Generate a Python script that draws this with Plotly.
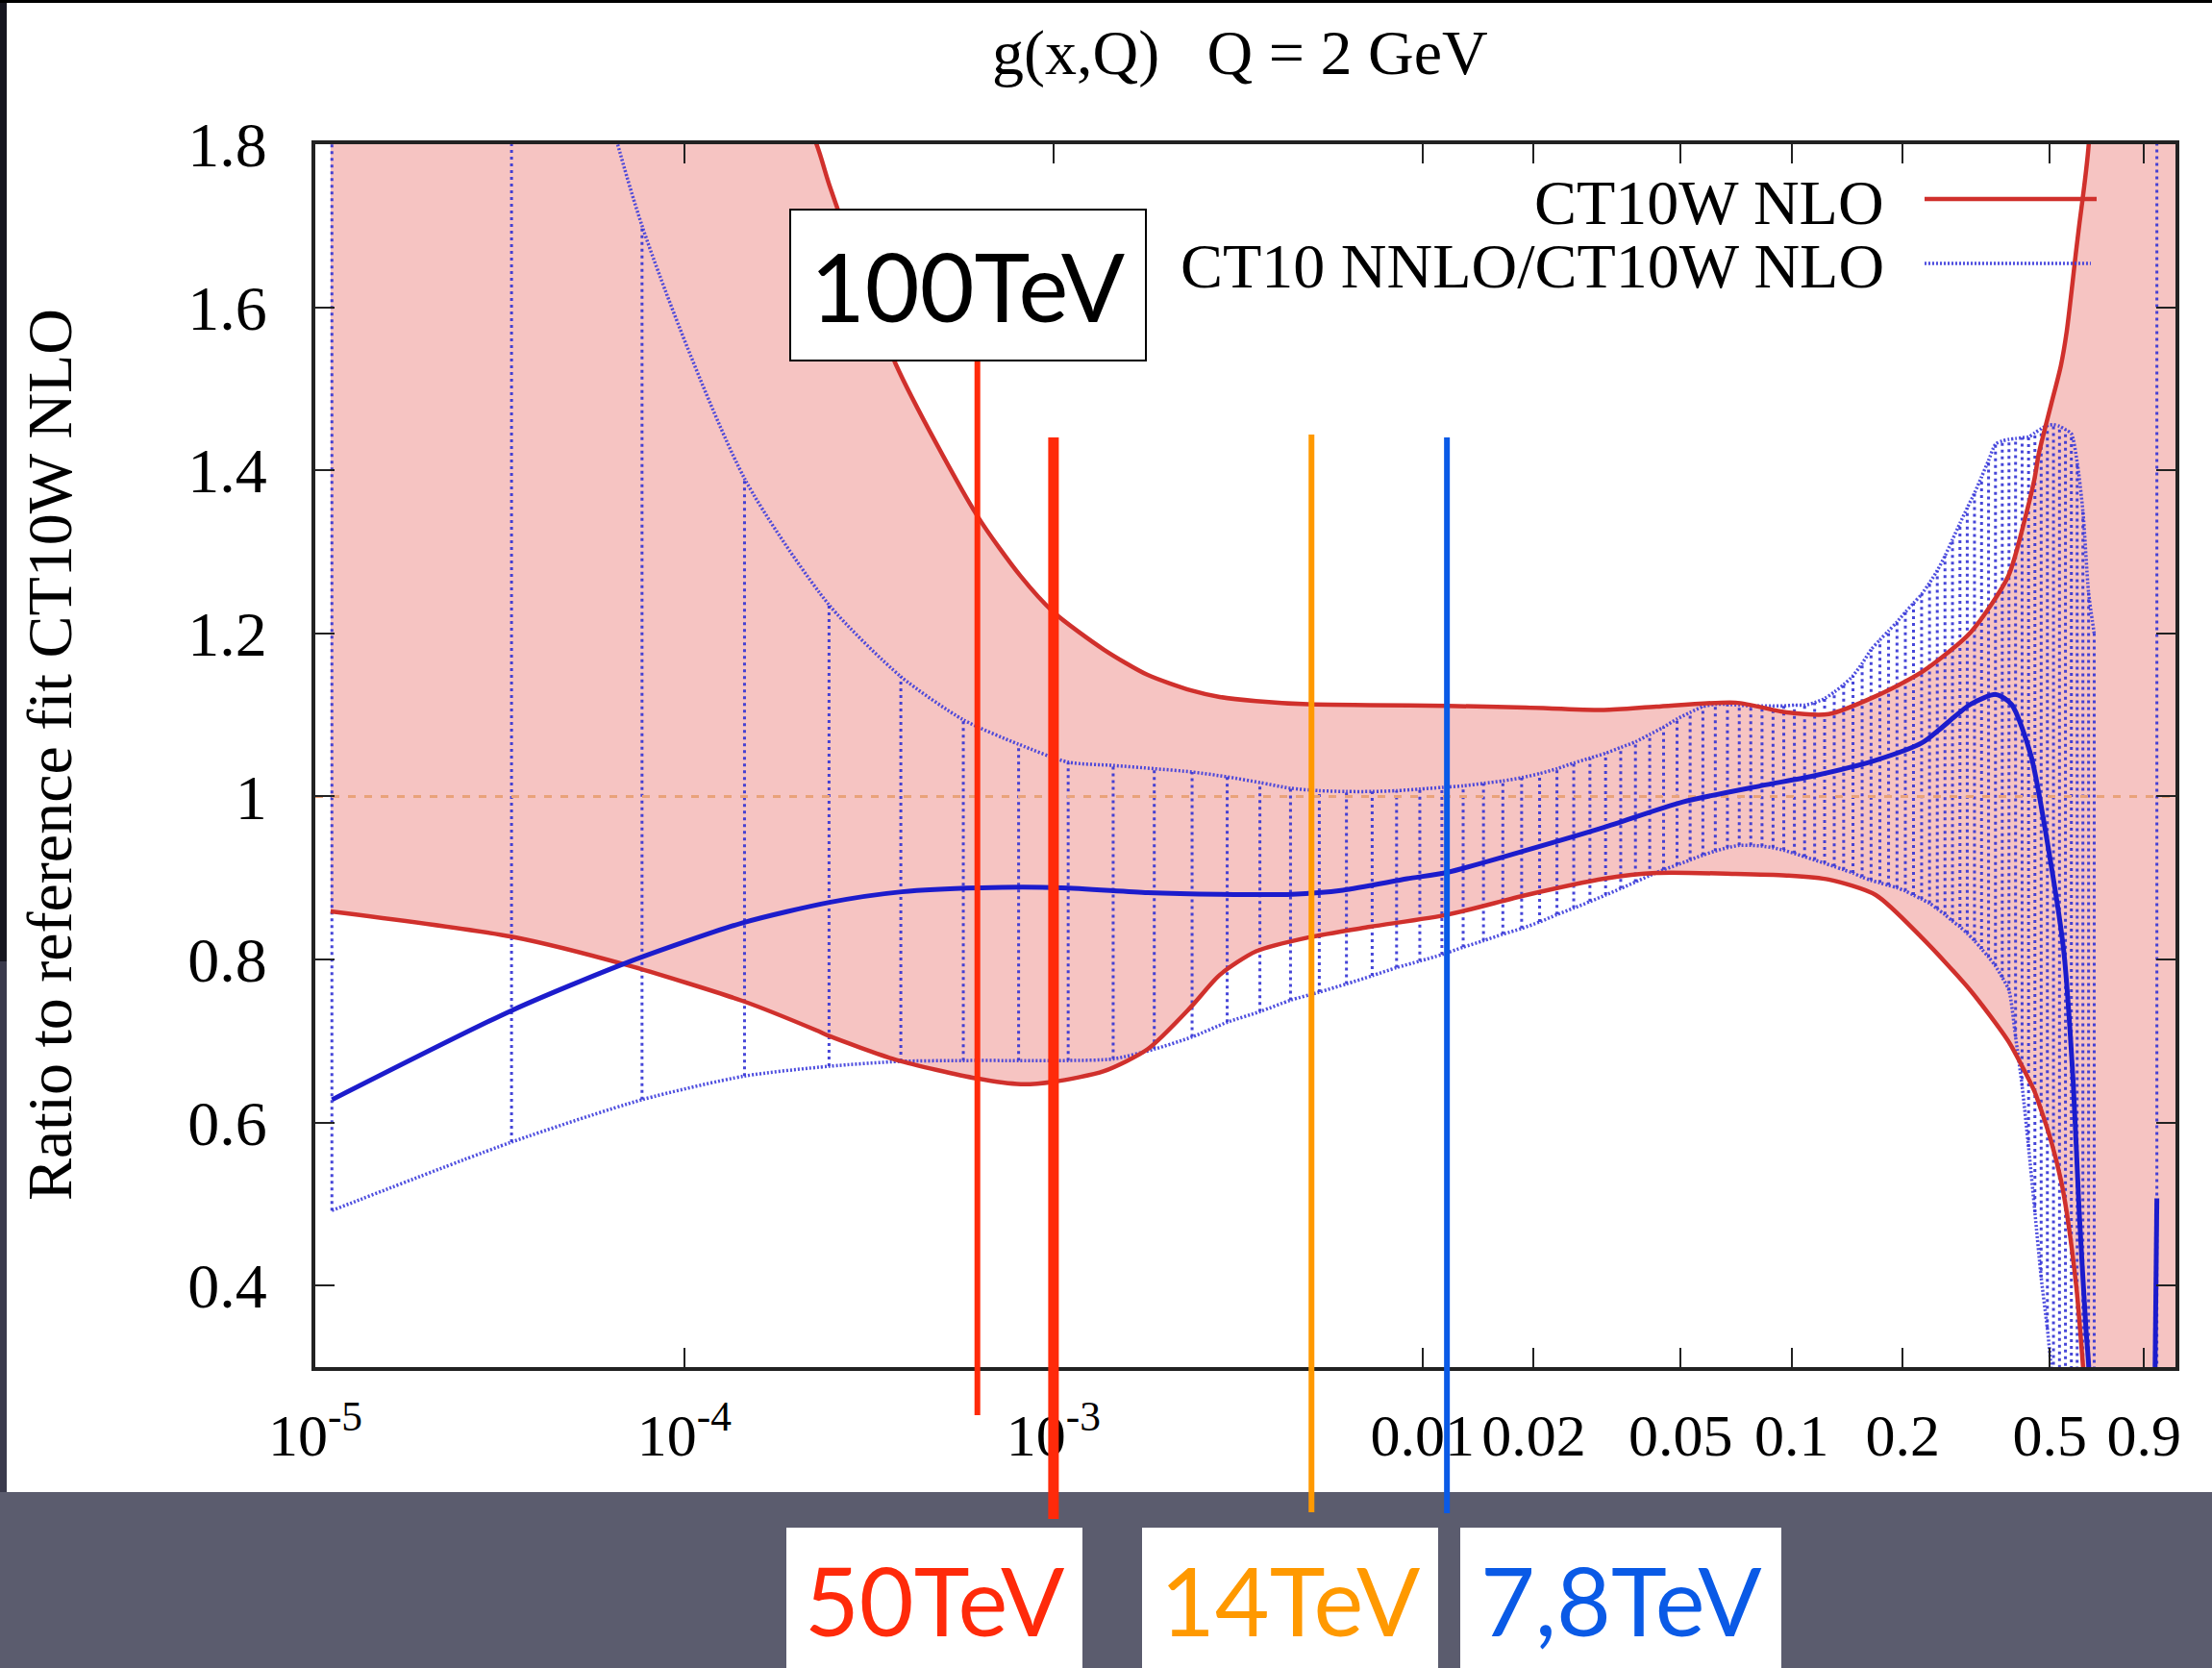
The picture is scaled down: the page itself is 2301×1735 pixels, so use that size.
import math
import plotly.graph_objects as go

# ---------------- data ----------------
title_text = "g(x,Q)\u00a0\u00a0\u00a0Q = 2 GeV"
y_title = "Ratio to reference fit CT10W NLO"
legend_names = ["CT10W NLO", "CT10 NNLO/CT10W NLO"]

x_min, x_max = 1e-5, 1.096
y_min, y_max = 0.3, 1.8
ref_level = 1.0

x_tickvals = [1e-5, 1e-4, 1e-3, 0.01, 0.02, 0.05, 0.1, 0.2, 0.5, 0.9]
x_ticktext = ["10<sup>-5</sup>", "10<sup>-4</sup>", "10<sup>-3</sup>", "0.01", "0.02",
              "0.05", "0.1", "0.2", "0.5", "0.9"]
y_tickvals = [0.4, 0.6, 0.8, 1.0, 1.2, 1.4, 1.6, 1.8]
y_ticktext = ["0.4", "0.6", "0.8", "1", "1.2", "1.4", "1.6", "1.8"]

# CT10W NLO error band (red)
red_x = [1.1e-5, 3.4e-5, 7.0e-5, 1.44e-4, 2.28e-4, 2.47e-4, 3.74e-4, 6.2e-4, 8.15e-4, 1.0e-3,
         1.37e-3, 1.8e-3, 2.36e-3, 2.82e-3, 3.54e-3, 4.9e-3, 7.2e-3, 0.0117, 0.0191, 0.031,
         0.043, 0.0705, 0.097, 0.126, 0.169, 0.226, 0.305, 0.386, 0.431, 0.455,
         0.467, 0.504, 0.536, 0.556, 0.590, 0.601, 0.638, 0.70, 1.1]
red_up = [3.2, 2.7, 2.25, 2.0, 1.80, 1.75, 1.53, 1.345, 1.27, 1.226,
          1.18, 1.149, 1.130, 1.122, 1.117, 1.113, 1.112, 1.111, 1.109, 1.106,
          1.110, 1.115, 1.103, 1.101, 1.123, 1.153, 1.201, 1.27, 1.345, 1.39,
          1.42, 1.48, 1.528, 1.57, 1.67, 1.70, 1.80, 2.3, 5.0]
red_lo = [0.859, 0.828, 0.793, 0.749, 0.713, 0.706, 0.677, 0.654, 0.647, 0.650,
          0.663, 0.690, 0.742, 0.781, 0.810, 0.827, 0.840, 0.855, 0.879, 0.899,
          0.906, 0.905, 0.903, 0.898, 0.879, 0.826, 0.762, 0.700, 0.660, 0.638,
          0.624, 0.578, 0.530, 0.490, 0.400, 0.360, 0.200, -0.3, -3.0]

# CT10 NNLO / CT10W NLO error band (blue, drawn as dotted impulses)
grid_x = [1.109e-5, 3.401e-5, 7.677e-5, 1.455e-4, 2.465e-4, 3.858e-4, 5.697e-4, 8.044e-4, 1.096e-3, 1.451e-3,
          1.875e-3, 2.374e-3, 2.955e-3, 3.624e-3, 4.387e-3, 5.250e-3, 6.219e-3, 7.301e-3, 8.502e-3, 9.828e-3,
          0.01128, 0.01288, 0.01462, 0.01650, 0.01855, 0.02075, 0.02312, 0.02567, 0.02840, 0.03132,
          0.03442, 0.03773, 0.04124, 0.04497, 0.04891, 0.05307, 0.05747, 0.06210, 0.06697, 0.07210,
          0.07747, 0.08311, 0.08902, 0.09519, 0.1017, 0.1084, 0.1154, 0.1228, 0.1304, 0.1383,
          0.1466, 0.1552, 0.1641, 0.1734, 0.1830, 0.1929, 0.2032, 0.2138, 0.2249, 0.2363,
          0.2480, 0.2602, 0.2727, 0.2857, 0.2990, 0.3128, 0.3269, 0.3415, 0.3566, 0.3720,
          0.3879, 0.4042, 0.4210, 0.4383, 0.4560, 0.4742, 0.4929, 0.5120, 0.5316, 0.5518,
          0.5724, 0.5935, 0.6152, 0.6374, 0.6601, 0.9759]
blue_hi = [3.2, 2.3, 1.70, 1.39, 1.235, 1.147, 1.094, 1.064, 1.042, 1.038,
           1.034, 1.030, 1.024, 1.017, 1.010, 1.007, 1.006, 1.006, 1.007, 1.009,
           1.011, 1.013, 1.016, 1.019, 1.023, 1.028, 1.034, 1.041, 1.047, 1.053,
           1.060, 1.067, 1.076, 1.085, 1.095, 1.103, 1.110, 1.113, 1.113, 1.112,
           1.111, 1.111, 1.111, 1.111, 1.112, 1.112, 1.115, 1.120, 1.128, 1.137,
           1.148, 1.163, 1.180, 1.192, 1.203, 1.214, 1.226, 1.237, 1.248, 1.262,
           1.277, 1.295, 1.315, 1.335, 1.354, 1.372, 1.392, 1.412, 1.432, 1.436,
           1.438, 1.439, 1.440, 1.441, 1.446, 1.451, 1.455, 1.456, 1.454, 1.450,
           1.445, 1.41, 1.35, 1.25, 1.20, 2.5]
blue_lo = [0.492, 0.576, 0.628, 0.657, 0.669, 0.675, 0.676, 0.676, 0.676, 0.678,
           0.690, 0.705, 0.723, 0.736, 0.750, 0.760, 0.770, 0.780, 0.790, 0.798,
           0.806, 0.815, 0.823, 0.831, 0.838, 0.846, 0.855, 0.863, 0.871, 0.879,
           0.887, 0.895, 0.903, 0.910, 0.916, 0.922, 0.928, 0.933, 0.937, 0.940,
           0.940, 0.939, 0.937, 0.934, 0.930, 0.926, 0.922, 0.918, 0.914, 0.910,
           0.906, 0.901, 0.897, 0.894, 0.891, 0.888, 0.884, 0.879, 0.874, 0.869,
           0.862, 0.855, 0.847, 0.840, 0.832, 0.823, 0.813, 0.803, 0.792, 0.778,
           0.762, 0.705, 0.645, 0.570, 0.490, 0.410, 0.347, 0.27, 0.20, 0.12,
           0.05, 0.0, 0.0, 0.0, 0.0, -1.0]

# CT10 NNLO / CT10W NLO central ratio (solid blue)
cen_x = [1.11e-5, 3.39e-5, 6.98e-5, 1.44e-4, 2.47e-4, 3.88e-4, 6.38e-4, 1.05e-3, 1.8e-3, 2.82e-3,
         4.43e-3, 6.08e-3, 9.08e-3, 0.0117, 0.0191, 0.031, 0.0505, 0.0824, 0.114, 0.168,
         0.226, 0.305, 0.358, 0.394, 0.445, 0.502, 0.546, 0.579, 0.601, 0.627,
         0.638, 0.66, 0.90, 0.9759]
cen_y = [0.628, 0.737, 0.796, 0.845, 0.870, 0.883, 0.888, 0.888, 0.882, 0.880,
         0.880, 0.885, 0.899, 0.907, 0.934, 0.962, 0.993, 1.013, 1.025, 1.044,
         1.066, 1.113, 1.125, 1.113, 1.05, 0.922, 0.81, 0.65, 0.491, 0.347,
         0.30, 0.0, -1.0, 0.507]

# collider energies marked on the slide
energy_labels = ["100TeV", "50TeV", "14TeV", "7,8TeV"]
energy_x = [6.22e-4, 1.0e-3, 5.0e-3, 0.01164]
energy_colors = ["#ff2a0a", "#ff2a0a", "#ff9900", "#0a5ae6"]

# ---------------- layout helpers (pixel -> paper) ----------------
W, H = 2301, 1735
L, R, T, B = 328, 2263, 150, 1422


def px(x):
    return (x - L) / (R - L)


def py(y):
    return (B - y) / (B - T)


SERIF = "Liberation Serif"
SANS = "Lato"
SMOOTH = 0.7

fig = go.Figure()

# red band fill
fig.add_trace(go.Scatter(x=red_x, y=red_lo, mode="lines",
                         line=dict(width=0, color="#d0302c", shape="spline", smoothing=SMOOTH),
                         hoverinfo="skip", showlegend=False))
fig.add_trace(go.Scatter(x=red_x, y=red_up, mode="lines",
                         line=dict(width=0, color="#d0302c", shape="spline", smoothing=SMOOTH),
                         fill="tonexty", fillcolor="#f6c4c2", hoverinfo="skip", showlegend=False))

# blue impulses
ix, iy = [], []
for xv, lo, hi in zip(grid_x, blue_lo, blue_hi):
    ix += [xv, xv, None]
    iy += [lo, hi, None]
fig.add_trace(go.Scatter(x=ix, y=iy, mode="lines",
                         line=dict(color="rgba(50,50,212,0.9)", width=3, dash="3px,4px"),
                         hoverinfo="skip", showlegend=False))

# reference level
fig.add_trace(go.Scatter(x=[x_min, x_max], y=[ref_level, ref_level], mode="lines",
                         line=dict(color="#e9a27a", width=3, dash="8px,9px"),
                         hoverinfo="skip", showlegend=False))

# blue band edges
for ys in (blue_hi, blue_lo):
    fig.add_trace(go.Scatter(x=grid_x[:-1], y=ys[:-1], mode="lines",
                             line=dict(color="rgba(60,60,220,0.9)", width=3.5, dash="2px,2px",
                                       shape="spline", smoothing=SMOOTH),
                             hoverinfo="skip", showlegend=False))

# red band edges
for ys in (red_up, red_lo):
    fig.add_trace(go.Scatter(x=red_x, y=ys, mode="lines",
                             line=dict(color="#d0302c", width=4.5, shape="spline", smoothing=SMOOTH),
                             hoverinfo="skip", showlegend=False))

# central blue line (smooth part, then the steep jump near x -> 1)
fig.add_trace(go.Scatter(x=cen_x[:-1], y=cen_y[:-1], mode="lines",
                         line=dict(color="#1c1ccc", width=5, shape="spline", smoothing=SMOOTH),
                         hoverinfo="skip", showlegend=False))
fig.add_trace(go.Scatter(x=cen_x[-2:], y=cen_y[-2:], mode="lines",
                         line=dict(color="#1c1ccc", width=5),
                         hoverinfo="skip", showlegend=False))

shapes = []
annotations = []

# slide background pieces
shapes.append(dict(type="rect", xref="paper", yref="paper", x0=px(7), x1=px(W), y0=py(1552), y1=py(3),
                   fillcolor="white", line=dict(width=0), layer="below"))
shapes.append(dict(type="rect", xref="paper", yref="paper", x0=px(0), x1=px(7), y0=py(1000), y1=py(0),
                   fillcolor="#16161f", line=dict(width=0), layer="below"))
shapes.append(dict(type="rect", xref="paper", yref="paper", x0=px(0), x1=px(7), y0=py(1552), y1=py(1000),
                   fillcolor="#3a3a4c", line=dict(width=0), layer="below"))
shapes.append(dict(type="rect", xref="paper", yref="paper", x0=px(0), x1=px(W), y0=py(3), y1=py(0),
                   fillcolor="#000000", line=dict(width=0), layer="below"))

# legend (gnuplot style: text then sample)
shapes.append(dict(type="line", xref="paper", yref="paper", x0=px(2002), x1=px(2181), y0=py(207), y1=py(207),
                   line=dict(color="#d0302c", width=4.5)))
shapes.append(dict(type="line", xref="paper", yref="paper", x0=px(2002), x1=px(2175), y0=py(274), y1=py(274),
                   line=dict(color="rgba(60,60,220,0.9)", width=3.5, dash="2px,2px")))
annotations.append(dict(text=legend_names[0], xref="paper", yref="paper", x=px(1962), y=py(210),
                        xanchor="right", yanchor="middle", showarrow=False,
                        font=dict(family=SERIF, size=66, color="black")))
annotations.append(dict(text=legend_names[1], xref="paper", yref="paper", x=px(1962), y=py(276),
                        xanchor="right", yanchor="middle", showarrow=False,
                        font=dict(family=SERIF, size=66, color="black")))

# energy marker lines
line_spans = [(375, 1472, 6), (455, 1580, 11), (452, 1573, 6), (455, 1574, 6)]
for xv, col, (ytop, ybot, wd) in zip(energy_x, energy_colors, line_spans):
    shapes.append(dict(type="line", xref="x", yref="paper", x0=xv, x1=xv, y0=py(ybot), y1=py(ytop),
                       line=dict(color=col, width=wd), layer="above"))

# label boxes
box_specs = [(822, 1192, 218, 375, True), (818, 1126, 1589, 1740, False),
             (1188, 1496, 1589, 1740, False), (1519, 1853, 1589, 1740, False)]
text_colors = ["#000000", "#ff2a0a", "#ff9900", "#0a5ae6"]
for lab, tc, (x0, x1, y0, y1, border) in zip(energy_labels, text_colors, box_specs):
    shapes.append(dict(type="rect", xref="paper", yref="paper", x0=px(x0), x1=px(x1), y0=py(y1), y1=py(y0),
                       fillcolor="white", line=dict(color="black", width=2 if border else 0),
                       layer="above"))
    cy = (y0 + min(y1, H)) / 2 + (0 if border else 2)
    annotations.append(dict(text=lab, xref="paper", yref="paper", x=px((x0 + x1) / 2), y=py(cy),
                            xanchor="center", yanchor="middle", showarrow=False,
                            font=dict(family=SANS, size=98, color=tc)))

# title and y title
annotations.append(dict(text=title_text, xref="paper", yref="paper", x=px(1290), y=py(55),
                        xanchor="center", yanchor="middle", showarrow=False,
                        font=dict(family=SERIF, size=66, color="black")))
annotations.append(dict(text=y_title, xref="paper", yref="paper", x=px(51), y=py(785),
                        xanchor="center", yanchor="middle", showarrow=False, textangle=-90,
                        font=dict(family=SERIF, size=66, color="black")))

axis_common = dict(showline=True, linewidth=4, linecolor="#222222", mirror="allticks",
                   ticks="inside", ticklen=20, tickwidth=2, tickcolor="#222222",
                   showgrid=False, zeroline=False, automargin=False)

fig.update_layout(
    width=W, height=H,
    margin=dict(l=L, r=W - R, t=T, b=H - B, pad=0),
    paper_bgcolor="#5b5c6e",
    plot_bgcolor="white",
    showlegend=False,
    xaxis=dict(type="log", range=[math.log10(x_min), math.log10(x_max)],
               tickmode="array", tickvals=x_tickvals, ticktext=x_ticktext,
               tickfont=dict(family=SERIF, size=62, color="black"), ticklabelstandoff=14,
               **axis_common),
    yaxis=dict(range=[y_min, y_max], tickmode="array", tickvals=y_tickvals, ticktext=y_ticktext,
               tickfont=dict(family=SERIF, size=66, color="black"), ticklabelstandoff=33,
               **axis_common),
    shapes=shapes,
    annotations=annotations,
)

fig.write_html("out.html")
